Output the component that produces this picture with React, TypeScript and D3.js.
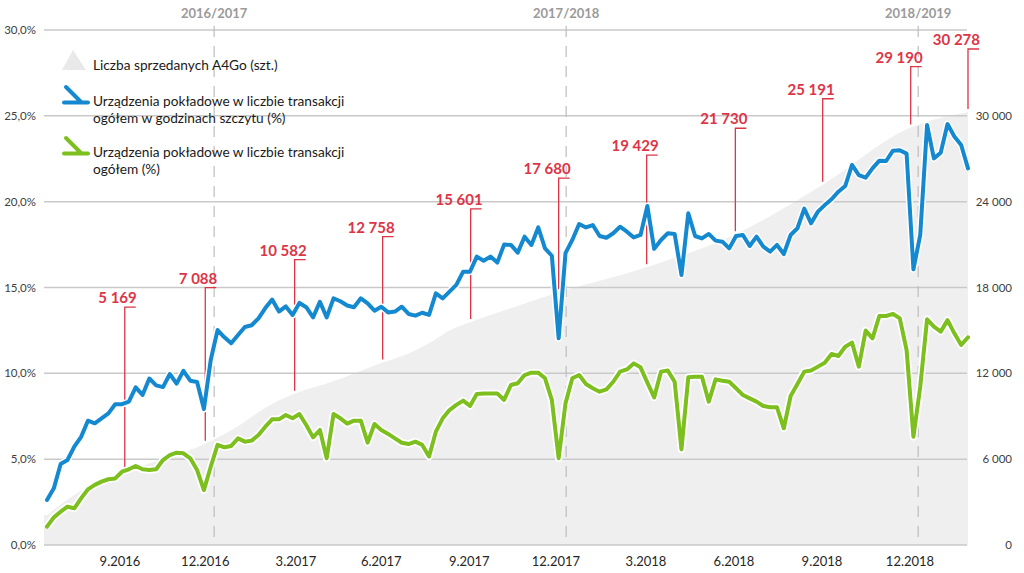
import React from "react";
import * as d3 from "d3";

// ---------- data ----------
const PEAK_SHARE: number[] = [
  2.62, 3.3, 4.72, 4.95, 5.73, 6.3, 7.24, 7.09, 7.38, 7.67,
  8.2, 8.2, 8.35, 9.18, 8.74, 9.7, 9.3, 9.2, 9.96, 9.4,
  10.15, 9.57, 9.5, 7.92, 10.78, 12.52, 12.1, 11.75, 12.23, 12.7,
  12.8, 13.2, 13.8, 14.3, 13.6, 13.9, 13.4, 14.1, 13.85, 13.26,
  14.17, 13.26, 14.37, 14.2, 13.95, 13.85, 14.37, 14.08, 13.65, 13.88,
  13.55, 13.6, 13.88, 13.46, 13.36, 13.53, 13.4, 14.66, 14.37, 14.76,
  15.15, 15.92, 15.92, 16.8, 16.56, 16.8, 16.45, 17.5, 17.48, 17.03,
  17.96, 17.48, 18.5, 17.28, 16.85, 12.04, 17.0, 17.77, 18.7, 18.5,
  18.64, 18.0, 17.9, 18.16, 18.54, 18.25, 17.92, 18.06, 19.75, 17.25,
  17.77, 18.16, 18.12, 15.73, 19.32, 18.0, 17.86, 18.12, 17.73, 17.67,
  17.28, 18.0, 18.06, 17.42, 17.96, 17.38, 17.09, 17.48, 16.95, 18.06,
  18.45, 19.6, 18.74, 19.42, 19.8, 20.14, 20.58, 20.91, 22.14, 21.55,
  21.4, 21.94, 22.39, 22.37, 22.97, 23.0, 22.8, 16.06, 18.06, 24.47,
  22.52, 22.85, 24.52, 23.8, 23.3, 21.94,
];

const TOTAL_SHARE: number[] = [
  1.07, 1.61, 1.94, 2.23, 2.14, 2.72, 3.24, 3.5, 3.69, 3.83,
  3.88, 4.27, 4.41, 4.6, 4.41, 4.37, 4.41, 4.95, 5.24, 5.38,
  5.34, 5.05, 4.37, 3.2, 4.56, 5.83, 5.69, 5.77, 6.21, 6.02,
  6.08, 6.41, 6.89, 7.32, 7.32, 7.57, 7.38, 7.63, 6.99, 6.27,
  6.7, 5.05, 7.63, 7.38, 7.07, 7.24, 7.24, 5.96, 7.05, 6.7,
  6.47, 6.21, 5.96, 5.88, 6.02, 5.83, 5.15, 6.6, 7.38, 7.86,
  8.16, 8.41, 8.1, 8.8, 8.83, 8.83, 8.83, 8.45, 9.32, 9.42,
  9.9, 10.04, 10.04, 9.71, 8.45, 5.05, 8.25, 9.71, 9.9, 9.38,
  9.13, 8.93, 9.07, 9.51, 10.1, 10.23, 10.58, 10.35, 9.46, 8.6,
  10.1, 10.16, 9.51, 5.57, 9.77, 9.8, 9.8, 8.35, 9.65, 9.57,
  9.51, 9.13, 8.74, 8.54, 8.35, 8.1, 8.02, 8.02, 6.8, 8.68,
  9.38, 10.1, 10.16, 10.39, 10.62, 11.13, 11.01, 11.55, 11.79, 10.39,
  12.49, 12.04, 13.34, 13.34, 13.46, 13.2, 11.36, 6.31, 9.22, 13.15,
  12.72, 12.43, 13.1, 12.33, 11.65, 12.1,
];

// A4Go units sold (right axis), read at week positions
const SALES_WEEK: number[] = [0, 5, 11.4, 17, 23.2, 28, 32, 36.3, 41, 44, 49.2, 53, 56, 59, 62.1, 67, 75, 87.9, 100.9, 113.7, 126.6, 135];
const SALES_VALUE: number[] = [2100, 3800, 5169, 6000, 7088, 8300, 9600, 10582, 11300, 11800, 12758, 13400, 14100, 15000, 15601, 16400, 17680, 19429, 21730, 25191, 29190, 30278];

// callouts
const CALLOUT_WEEK: number[] = [11.4, 23.2, 36.3, 49.2, 62.1, 75, 87.9, 100.9, 113.7, 126.6, 135];
const CALLOUT_VALUE: number[] = [5169, 7088, 10582, 12758, 15601, 17680, 19429, 21730, 25191, 29190, 30278];

// x-axis labels
const XTICK_LABELS: string[] = ["9.2016", "12.2016", "3.2017", "6.2017", "9.2017", "12.2017", "3.2018", "6.2018", "9.2018", "12.2018"];
const XTICK_WEEK: number[] = [10.7, 23.2, 36.5, 49, 61.9, 74.6, 87.8, 100.7, 113.6, 126.5];

const SEASON_LABELS: string[] = ["2016/2017", "2017/2018", "2018/2019"];
const SEASON_WEEK: number[] = [24.5, 76.1, 127.7];

const LEFT_TICKS: number[] = [0, 5, 10, 15, 20, 25, 30];
const RIGHT_TICKS: number[] = [0, 6000, 12000, 18000, 24000, 30000];

const LEGEND_LABELS: string[][] = [
  ["Liczba sprzedanych A4Go (szt.)"],
  ["Urządzenia pokładowe w liczbie transakcji", "ogółem w godzinach szczytu (%)"],
  ["Urządzenia pokładowe w liczbie transakcji", "ogółem (%)"],
];

// ---------- layout ----------
const W = 1024;
const H = 573;
const PLOT_L = 44;
const PLOT_R = 967;
const CALLOUT_LIFT = [164, 156, 134, 126, 113, 114, 112, 106, 86, 61, 63];
const LEGEND_Y = [65, 101, 152];

const BLUE = "#1589d0";
const GREEN = "#7cbf1e";
const RED = "#dc3547";
const FONT = "Lato, 'Open Sans', sans-serif";

const fmtThousands = (v: number) => d3.format(",")(v).replace(/,/g, "\u00a0");

export default function App() {
  const x = d3.scaleLinear().domain([0, PEAK_SHARE.length - 1]).range([47, 968]);
  const yL = d3.scaleLinear().domain([0, 30]).range([545, 30]);
  const yR = d3.scaleLinear().domain([0, 30000]).range([545, 116]);

  const areaGen = d3
    .area<number>()
    .x((_, i) => x(SALES_WEEK[i]))
    .y0(yR(0))
    .y1((d) => yR(d))
    .curve(d3.curveMonotoneX);
  const areaPath = areaGen(SALES_VALUE) || "";

  const lineGen = d3
    .line<number>()
    .x((_, i) => x(i))
    .y((d) => yL(d));

  const bluePath = lineGen(PEAK_SHARE) || "";
  const greenPath = lineGen(TOTAL_SHARE) || "";

  return (
    <svg
      width={W}
      height={H}
      style={{ position: "absolute", left: 0, top: 0, background: "#fff" }}
      fontFamily={FONT}
    >
      {/* area */}
      <rect x={PLOT_L} y={yR(SALES_VALUE[0])} width={x(0) - PLOT_L + 1} height={yR(0) - yR(SALES_VALUE[0])} fill="#efefef" />
      <path d={areaPath} fill="#efefef" />

      {/* gridlines */}
      {LEFT_TICKS.map((t) => (
        <line key={"g" + t} x1={PLOT_L} x2={PLOT_R} y1={yL(t)} y2={yL(t)} stroke="#c9c9c9" strokeWidth={1.5} />
      ))}

      {/* left axis labels */}
      {LEFT_TICKS.map((t) => (
        <text key={"l" + t} x={36} y={yL(t)} dy="0.35em" textAnchor="end" fontSize={11.5} fill="#404040">
          {d3.format(".1f")(t).replace(".", ",") + "%"}
        </text>
      ))}

      {/* right axis labels */}
      {RIGHT_TICKS.map((t) => (
        <text key={"r" + t} x={1012} y={yR(t)} dy="0.35em" textAnchor="end" fontSize={11.5} fill="#404040">
          {fmtThousands(t)}
        </text>
      ))}

      {/* season separators */}
      {SEASON_WEEK.map((w, i) => (
        <g key={"s" + i}>
          <line x1={x(w)} x2={x(w)} y1={26} y2={545} stroke="#bdbdbd" strokeWidth={1.2} strokeDasharray="11,9" />
          <text x={x(w)} y={13} dy="0.35em" textAnchor="middle" fontSize={13} fontWeight={700} fill="#9a9a9a">
            {SEASON_LABELS[i]}
          </text>
        </g>
      ))}

      {/* callouts */}
      {CALLOUT_VALUE.map((v, i) => {
        const cx = x(CALLOUT_WEEK[i]);
        const ty = yR(v) - CALLOUT_LIFT[i];
        return (
          <g key={"c" + i}>
            <polyline
              points={`${cx + 11},${ty} ${cx},${ty} ${cx},${yR(v) - 3}`}
              fill="none"
              stroke={RED}
              strokeWidth={1.3}
            />
            <text x={cx + 12} y={ty - 4} textAnchor="end" fontSize={15} fontWeight={700} fill={RED}>
              {fmtThousands(v)}
            </text>
          </g>
        );
      })}

      {/* lines */}
      <path d={bluePath} fill="none" stroke="#fff" strokeWidth={7} strokeLinejoin="round" />
      <path d={bluePath} fill="none" stroke={BLUE} strokeWidth={4} strokeLinejoin="round" strokeLinecap="round" />
      <path d={greenPath} fill="none" stroke="#fff" strokeWidth={7.5} strokeLinejoin="round" />
      <path d={greenPath} fill="none" stroke={GREEN} strokeWidth={4} strokeLinejoin="round" strokeLinecap="round" />

      {/* x labels */}
      {XTICK_LABELS.map((t, i) => (
        <text key={"x" + i} x={x(XTICK_WEEK[i])} y={561} dy="0.35em" textAnchor="middle" fontSize={13} fill="#262626">
          {t}
        </text>
      ))}

      {/* legend */}
      <path d="M62,70 L73,50 L86,70 Z" fill="#e9e9e9" />
      <path d="M66,87 L81,102 M64,102.5 L88,102.5" fill="none" stroke={BLUE} strokeWidth={4} strokeLinecap="round" />
      <path d="M66,138 L81,153 M64,153.5 L88,153.5" fill="none" stroke={GREEN} strokeWidth={4} strokeLinecap="round" />
      {LEGEND_LABELS.map((lines, i) =>
        lines.map((ln, j) => (
          <text key={"lg" + i + j} x={93} y={LEGEND_Y[i] + j * 17.5} dy="0.35em" fontSize={13.7} fill="#1a1a1a">
            {ln}
          </text>
        ))
      )}
    </svg>
  );
}
